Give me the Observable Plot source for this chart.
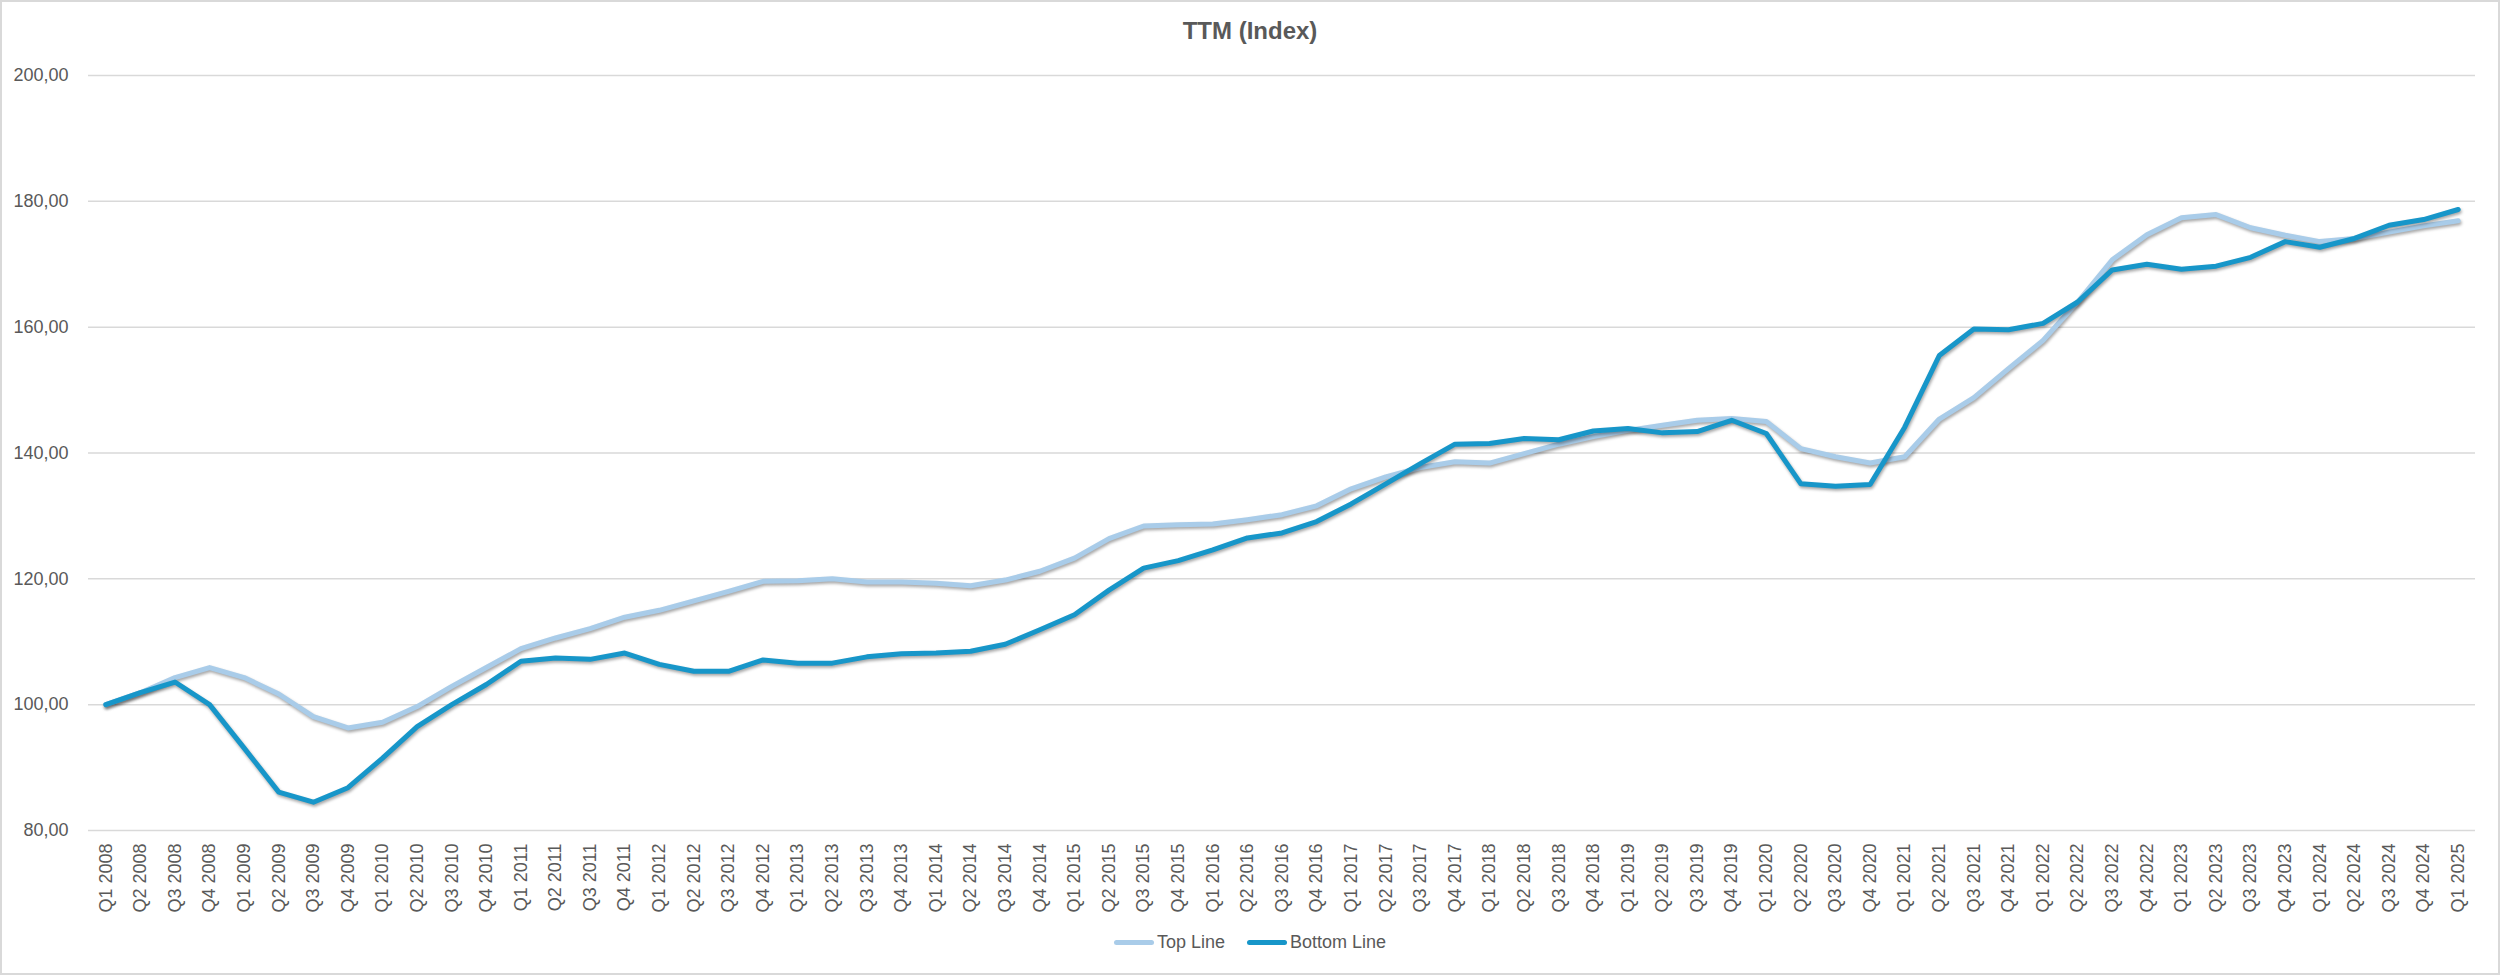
<!DOCTYPE html>
<html>
<head>
<meta charset="utf-8">
<script src="https://cdn.jsdelivr.net/npm/d3@7"></script>
<script src="https://cdn.jsdelivr.net/npm/@observablehq/plot@0.6"></script>
<style>
  body { margin: 0; background: #fff; }
  #chart { position: relative; width: 2500px; height: 975px; box-shadow: inset 0 0 0 2px #d9d9d9; font-family: "Liberation Sans", Arial, sans-serif; overflow: hidden; background: #fff; }
  #title { height: 49px; padding-top: 6px; line-height: 49px; text-align: center; font-weight: bold; font-size: 24px; color: #595959; }
  #plot svg { display: block; }
  #legend { height: 45px; padding-top: 5px; display: flex; justify-content: center; align-items: flex-start; gap: 22px; font-size: 18px; color: #595959; }
  .item { display: flex; align-items: center; height: 24px; }
  .sw { display: inline-block; width: 40px; height: 5px; border-radius: 3px; margin-right: 3px; }
</style>
</head>
<body>
<div id="chart">
  <div id="title">TTM (Index)</div>
  <div id="plot"></div>
  <div id="legend"></div>
</div>
<script>
const quarters = [
  "Q1 2008","Q2 2008","Q3 2008","Q4 2008",
  "Q1 2009","Q2 2009","Q3 2009","Q4 2009",
  "Q1 2010","Q2 2010","Q3 2010","Q4 2010",
  "Q1 2011","Q2 2011","Q3 2011","Q4 2011",
  "Q1 2012","Q2 2012","Q3 2012","Q4 2012",
  "Q1 2013","Q2 2013","Q3 2013","Q4 2013",
  "Q1 2014","Q2 2014","Q3 2014","Q4 2014",
  "Q1 2015","Q2 2015","Q3 2015","Q4 2015",
  "Q1 2016","Q2 2016","Q3 2016","Q4 2016",
  "Q1 2017","Q2 2017","Q3 2017","Q4 2017",
  "Q1 2018","Q2 2018","Q3 2018","Q4 2018",
  "Q1 2019","Q2 2019","Q3 2019","Q4 2019",
  "Q1 2020","Q2 2020","Q3 2020","Q4 2020",
  "Q1 2021","Q2 2021","Q3 2021","Q4 2021",
  "Q1 2022","Q2 2022","Q3 2022","Q4 2022",
  "Q1 2023","Q2 2023","Q3 2023","Q4 2023",
  "Q1 2024","Q2 2024","Q3 2024","Q4 2024",
  "Q1 2025"
];

const topLine = [
  100.0, 101.9, 104.3, 105.9, 104.3, 101.7, 98.1, 96.3, 97.2, 99.7, 102.9, 105.9, 108.9, 110.6, 112.1, 113.9, 115.0,
  116.5, 118.0, 119.6, 119.7, 120.0, 119.5, 119.5, 119.3, 118.9, 119.8, 121.2, 123.3, 126.4, 128.4, 128.6, 128.7, 129.4, 130.2,
  131.6, 134.3, 136.2, 137.7, 138.6, 138.4, 139.9, 141.4, 142.6, 143.6, 144.4, 145.2, 145.5, 145.0, 140.7, 139.4, 138.4,
  139.4, 145.4, 148.8, 153.4, 157.9, 164.0, 170.7, 174.7, 177.4, 177.9, 175.8, 174.6, 173.6, 174.1, 175.1, 176.1, 176.9
];

const bottomLine = [
  100.0, 101.9, 103.6, 100.0, 93.1, 86.1, 84.5, 86.8, 91.5, 96.5, 100.0, 103.2, 106.9, 107.4, 107.2, 108.2, 106.4,
  105.3, 105.3, 107.1, 106.6, 106.6, 107.6, 108.1, 108.2, 108.5, 109.6, 111.9, 114.3, 118.2, 121.7, 122.9, 124.6, 126.5, 127.3,
  129.1, 131.9, 135.1, 138.3, 141.4, 141.5, 142.3, 142.1, 143.5, 143.9, 143.2, 143.4, 145.2, 143.1, 135.1, 134.7, 135.0,
  144.1, 155.5, 159.7, 159.6, 160.6, 164.0, 169.1, 170.0, 169.2, 169.7, 171.1, 173.6, 172.7, 174.1, 176.2, 177.1, 178.7
];

const yTicks = [80, 100, 120, 140, 160, 180, 200];
const seriesNames = ["Top Line", "Bottom Line"];
const seriesColors = ["#A9CCE9", "#1796C9"];

const svg = Plot.plot({
  width: 2500,
  height: 870,
  marginLeft: 88,
  marginRight: 25,
  marginTop: 20,
  marginBottom: 95,
  x: { type: "point", domain: quarters, padding: 0.5 },
  y: { domain: [80, 200] },
  style: { fontFamily: '"Liberation Sans", Arial, sans-serif', fontSize: "18px", color: "#595959", background: "transparent", overflow: "visible" },
  marks: [
    Plot.gridY(yTicks, { stroke: "#d9d9d9", strokeOpacity: 1, strokeWidth: 1.5 }),
    Plot.axisY(yTicks, { tickSize: 0, tickPadding: 20, tickFormat: d => d.toFixed(2).replace(".", ","), fill: "#595959", fontSize: 18, label: null }),
    Plot.axisX({ tickSize: 0, tickPadding: 13, tickRotate: -90, fill: "#595959", fontSize: 18, label: null }),
    Plot.line(quarters, { x: d => d, y: (d, i) => topLine[i], stroke: seriesColors[0], strokeWidth: 5, strokeLinejoin: "round", strokeLinecap: "round" }),
    Plot.line(quarters, { x: d => d, y: (d, i) => bottomLine[i], stroke: seriesColors[1], strokeWidth: 5, strokeLinejoin: "round", strokeLinecap: "round" })
  ]
});
d3.select(svg).selectAll("g[aria-label=line] path").style("filter", "drop-shadow(1px 2px 1.5px rgba(0,0,0,0.35))");
document.getElementById("plot").appendChild(svg);

const legend = d3.select("#legend");
seriesNames.forEach((name, i) => {
  const it = legend.append("div").attr("class", "item");
  it.append("span").attr("class", "sw").style("background", seriesColors[i]);
  it.append("span").text(name);
});
</script>
</body>
</html>
